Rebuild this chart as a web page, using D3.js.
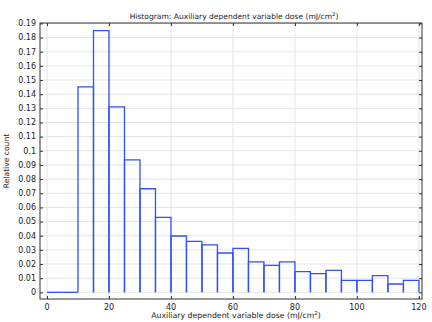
<!DOCTYPE html>
<html>
<head>
<meta charset="utf-8">
<script src="https://cdn.jsdelivr.net/npm/d3@7"></script>
<style>
  body { margin: 0; background: #fff; }
  svg { display: block; font-family: "DejaVu Sans", sans-serif; }
</style>
</head>
<body>
<div id="chart"></div>
<script>
// bin edges (mJ/cm2) and relative count per bin
const binEdges = d3.range(0, 125, 5);
const relCount = [0, 0, 0.1452, 0.1849, 0.131, 0.0936, 0.0732, 0.053, 0.0398, 0.036,
  0.0336, 0.0278, 0.031, 0.0216, 0.019, 0.0216, 0.0146, 0.0132, 0.0155, 0.0085,
  0.0085, 0.0118, 0.0059, 0.0085];
const xTicks = [0, 20, 40, 60, 80, 100, 120];
const yTicks = d3.range(0, 0.195, 0.01);

const width = 432, height = 322;
const margin = {top: 23, right: 10, bottom: 23, left: 40};

const svg = d3.select('#chart').append('svg')
  .attr('width', width)
  .attr('height', height);

const x = d3.scaleLinear().domain([-2.26, 121]).range([margin.left, width - margin.right]);
const y = d3.scaleLinear().domain([-0.0047, 0.1903]).range([height - margin.bottom, margin.top]);

const x0 = margin.left, x1 = width - margin.right;
const y0 = height - margin.bottom, y1 = margin.top;

// grid
svg.append('g').selectAll('line')
  .data(xTicks).enter().append('line')
  .attr('x1', d => x(d)).attr('x2', d => x(d))
  .attr('y1', y1).attr('y2', y0)
  .attr('stroke', '#e4e4e4').attr('stroke-width', 1);
svg.append('g').selectAll('line')
  .data(yTicks).enter().append('line')
  .attr('x1', x0).attr('x2', x1)
  .attr('y1', d => y(d)).attr('y2', d => y(d))
  .attr('stroke', '#e4e4e4').attr('stroke-width', 1);

// histogram outline
const bins = relCount.map((v, i) => ({a: binEdges[i], b: binEdges[i + 1], v: v}));
svg.append('g').selectAll('path')
  .data(bins).enter().append('path')
  .attr('d', d => `M${x(d.a)},${y(0)}V${y(d.v)}H${x(d.b)}V${y(0)}`)
  .attr('fill', 'none')
  .attr('stroke', '#3050f8')
  .attr('stroke-width', 1.3);

// axes (ticks inward)
const fmt = d => d3.format('.2~f')(d);
svg.append('g').attr('transform', `translate(${x0},0)`)
  .call(d3.axisRight(y).tickValues(yTicks).tickSize(3).tickFormat(''));
svg.append('g').attr('transform', `translate(${x1},0)`)
  .call(d3.axisLeft(y).tickValues(yTicks).tickSize(3).tickFormat(''));
svg.append('g').attr('transform', `translate(0,${y1})`)
  .call(d3.axisBottom(x).tickValues(xTicks).tickSize(3).tickFormat(''));
svg.append('g').attr('transform', `translate(0,${y0})`)
  .call(d3.axisTop(x).tickValues(xTicks).tickSize(3).tickFormat(''));
svg.selectAll('.domain').remove();
svg.selectAll('.tick line').attr('stroke', '#333');

// frame
svg.append('rect')
  .attr('x', x0).attr('y', y1)
  .attr('width', x1 - x0).attr('height', y0 - y1)
  .attr('fill', 'none').attr('stroke', '#333').attr('stroke-width', 1);

// tick labels
svg.append('g').selectAll('text')
  .data(yTicks).enter().append('text')
  .attr('x', x0 - 4).attr('y', d => y(d))
  .attr('dy', '0.35em')
  .attr('text-anchor', 'end')
  .attr('font-size', 8).attr('fill', '#222')
  .text(fmt);
svg.append('g').selectAll('text')
  .data(xTicks).enter().append('text')
  .attr('x', d => x(d)).attr('y', y0 + 11)
  .attr('text-anchor', 'middle')
  .attr('font-size', 8).attr('fill', '#222')
  .text(d => d);

// text with a superscript 2, scaled to a target width
function unitLabel(txt, cx, by, w) {
  const t = svg.append('text')
    .attr('x', cx).attr('y', by)
    .attr('text-anchor', 'middle')
    .attr('font-size', 8).attr('fill', '#222')
    .text(txt + ' (mJ/cm');
  t.append('tspan').attr('font-size', 5.5).attr('dy', -3).text('2');
  t.append('tspan').attr('dy', 3).text(')');
  const s = 8 * w / t.node().getComputedTextLength();
  t.attr('font-size', s);
  t.select('tspan').attr('font-size', s * 0.7);
  return t;
}

unitLabel('Histogram: Auxiliary dependent variable dose', 234, 19, 209);
unitLabel('Auxiliary dependent variable dose', 236, 318, 170);

svg.append('text')
  .attr('transform', `translate(8.5,${(y0 + y1) / 2}) rotate(-90)`)
  .attr('text-anchor', 'middle')
  .attr('font-size', 7.6).attr('fill', '#222')
  .text('Relative count');
</script>
</body>
</html>
